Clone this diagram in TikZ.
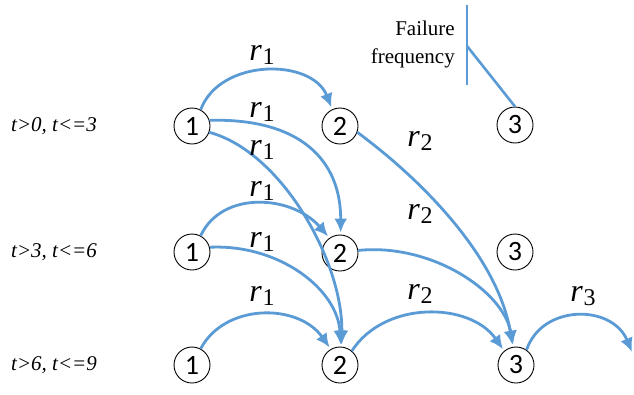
\documentclass[tikz,border=0pt]{standalone}
\usepackage{fontspec}
\setmainfont{Liberation Serif}
\newfontfamily\tms{Liberation Serif}
\newfontfamily\numfont{Carlito}
\usetikzlibrary{arrows.meta}
\definecolor{arrblue}{RGB}{91,155,213}
\tikzset{
  st/.style={circle,draw=black,line width=0.9pt,fill=white,minimum size=36pt,inner sep=0pt,font=\numfont\fontsize{28}{28}\selectfont},
  tlab/.style={anchor=west,inner sep=0pt,font=\tms\itshape\fontsize{21}{21}\selectfont},
  rlab/.style={inner sep=0pt},
  conn/.style={draw=arrblue,line width=2.8pt,-{Latex[length=14pt,width=13pt]},shorten >=2pt},
  fline/.style={draw=arrblue,line width=2.6pt}
}
\newcommand{\rl}[1]{{\tms\fontsize{32}{32}\selectfont\itshape r}\kern1pt\raisebox{-0.45em}{\tms\fontsize{24}{24}\selectfont #1}}
\begin{document}
\begin{tikzpicture}[x=1pt,y=1pt]
\useasboundingbox (0,0) rectangle (634,-394);
% nodes
\node[st] (A1) at (192,-126) {1};
\node[st] (B1) at (340,-126) {2};
\node[st] (C1) at (515,-125) {3};
\node[st] (A2) at (192,-252) {1};
\node[st] (B2) at (340,-253) {2};
\node[st] (C2) at (515,-252) {3};
\node[st] (A3) at (192,-365) {1};
\node[st] (B3) at (340,-365) {2};
\node[st] (C3) at (516,-365) {3};
\coordinate (E) at (632,-352);
% time labels
\node[tlab] (T1) at (11,-126) {t>0, t<=3};
\node[tlab] (T2) at (11,-252) {t>3, t<=6};
\node[tlab] (T3) at (11,-365) {t>6, t<=9};
% failure frequency
\node[anchor=east,align=right,inner sep=0pt,font=\tms\fontsize{21}{28}\selectfont] (FF) at (455,-44) {Failure\\frequency};
\coordinate (V1) at (467,-5);
\coordinate (V2) at (467,-85);
\coordinate (V3) at (467,-46);
\draw[fline] (V1) -- (V2);
\draw[fline] (V3) -- (C1.north);
% connectors
\draw[conn] (A1.62) .. controls (220,-58) and (312,-58) .. (B1.115);
\draw[conn] (A1.18) .. controls (300,-118) and (341,-160) .. (B2.88);
\draw[conn] (A1.-20) .. controls (282,-152) and (343,-262) .. (B3.85);
\draw[conn] (A2.62) .. controls (222,-190) and (292,-195) .. (B2.125);
\draw[conn] (A2.15) .. controls (280,-244) and (338,-290) .. (B3.88);
\draw[conn] (A3.62) .. controls (225,-303) and (298,-303) .. (B3.120);
\draw[conn] (B1.-20) .. controls (422,-180) and (498,-257) .. (C3.100);
\draw[conn] (B2.8) .. controls (430,-243) and (503,-290) .. (C3.98);
\draw[conn] (B3.50) .. controls (385,-300) and (470,-302) .. (C3.130);
\draw[conn,shorten >=0pt] (C3.55) .. controls (542,-304) and (612,-304) .. (E);
% rate labels
\node[rlab] (R11) at (262,-55) {\rl{1}};
\node[rlab] (R12) at (262,-112) {\rl{1}};
\node[rlab] (R13) at (262,-150) {\rl{1}};
\node[rlab] (R14) at (262,-191) {\rl{1}};
\node[rlab] (R15) at (262,-242) {\rl{1}};
\node[rlab] (R16) at (262,-296) {\rl{1}};
\node[rlab] (R21) at (420,-141) {\rl{2}};
\node[rlab] (R22) at (420,-214) {\rl{2}};
\node[rlab] (R23) at (420,-294) {\rl{2}};
\node[rlab] (R31) at (583,-296) {\rl{3}};
\end{tikzpicture}
\end{document}
